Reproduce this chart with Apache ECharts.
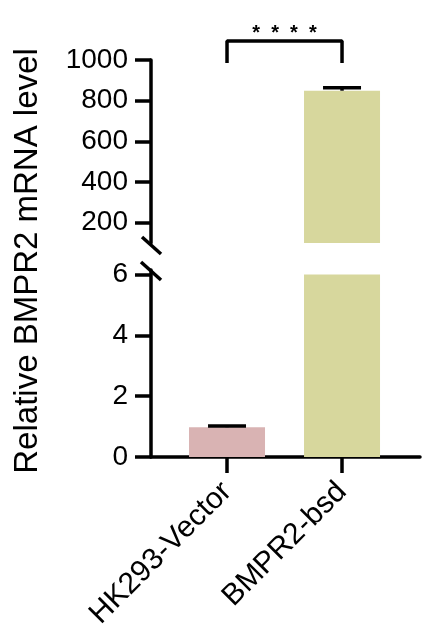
<!DOCTYPE html>
<html>
<head>
<meta charset="utf-8">
<script src="https://cdn.jsdelivr.net/npm/echarts@6/dist/echarts.min.js"></script>
<style>
  html, body { margin: 0; padding: 0; background: #fff; }
  #chart { width: 422px; height: 636px; }
</style>
</head>
<body>
<div id="chart"></div>
<script>
// data
const categories = ['HK293-Vector', 'BMPR2-bsd'];
const means = [0.98, 849];
const sds = [0.04, 15];
const barColors = ['#d9b3b3', '#d7d79d'];
const lowerTicks = [0, 2, 4, 6];
const upperTicks = [200, 400, 600, 800, 1000];
const lowerMax = 6;        // bars are cut at the top of the lower segment
const upperMin = 100;      // upper segment starts here
const bracket = [[0, 985], [0, 1093], [1, 1093], [1, 985]];
const starsAt = [[0.5, 1128]];
const stars = '*  *  *  *';

const font = 'Liberation Sans, Arial, Helvetica, sans-serif';
const lw = 3.5;

const lowerData = means.map((v, i) => ({
  value: [i, Math.min(v, lowerMax)],
  itemStyle: { color: barColors[i] }
}));
const upperData = means.map((v, i) => ({
  value: [i, v > upperMin ? v : null],
  itemStyle: { color: barColors[i] }
}));
const errLower = means.map((v, i) => [i, v, v + sds[i]]).filter(d => d[2] <= lowerMax);
const errUpper = means.map((v, i) => [i, v, v + sds[i]]).filter(d => d[1] > upperMin);

function errorBar(params, api) {
  const x = api.value(0);
  const p1 = api.coord([x, api.value(1)]);
  const p2 = api.coord([x, api.value(2)]);
  const half = 19;
  const style = { stroke: '#000', lineWidth: lw };
  return {
    type: 'group',
    children: [
      { type: 'line', shape: { x1: p1[0], y1: p1[1], x2: p2[0], y2: p2[1] }, style: style },
      { type: 'line', shape: { x1: p2[0] - half, y1: p2[1], x2: p2[0] + half, y2: p2[1] }, style: style }
    ]
  };
}

function starText(params, api) {
  const p = api.coord([api.value(0), api.value(1)]);
  return {
    type: 'text', x: p[0], y: p[1],
    style: {
      text: stars, fontSize: 20, fontWeight: 'bold', fontFamily: font,
      fill: '#000', align: 'center', verticalAlign: 'middle'
    }
  };
}

const xMin = -0.661, xMax = 1.678;

function yAxisStyle(ticks) {
  return {
    splitLine: { show: false },
    axisLine: { show: true, onZero: false, lineStyle: { color: '#000', width: lw } },
    axisTick: { show: true, length: 16, customValues: ticks, lineStyle: { color: '#000', width: lw } },
    axisLabel: {
      customValues: ticks, margin: 23, fontSize: 28, fontFamily: font, color: '#000',
      formatter: v => String(v)
    }
  };
}

const option = {
  animation: false,
  grid: [
    { left: 151, right: 2, top: 60, height: 183 },
    { left: 151, right: 2, top: 270, height: 187 }
  ],
  xAxis: [
    { gridIndex: 0, type: 'value', min: xMin, max: xMax, show: false },
    {
      gridIndex: 1, type: 'value', min: xMin, max: xMax,
      splitLine: { show: false },
      axisLine: { show: true, onZero: false, lineStyle: { color: '#000', width: lw } },
      axisTick: { show: true, length: 16, customValues: [0, 1], lineStyle: { color: '#000', width: lw } },
      axisLabel: {
        customValues: [0, 1], rotate: 45, margin: 30,
        fontSize: 30, fontFamily: font, color: '#000',
        formatter: v => categories[Math.round(v)]
      }
    }
  ],
  yAxis: [
    Object.assign({ gridIndex: 0, type: 'value', min: upperMin, max: 1000 }, yAxisStyle(upperTicks)),
    Object.assign({ gridIndex: 1, type: 'value', min: 0, max: 6.15 }, yAxisStyle(lowerTicks))
  ],
  series: [
    { type: 'bar', xAxisIndex: 1, yAxisIndex: 1, barWidth: 76, data: lowerData },
    { type: 'bar', xAxisIndex: 0, yAxisIndex: 0, barWidth: 76, data: upperData },
    { type: 'custom', xAxisIndex: 1, yAxisIndex: 1, renderItem: errorBar, data: errLower, clip: false, z: 5 },
    { type: 'custom', xAxisIndex: 0, yAxisIndex: 0, renderItem: errorBar, data: errUpper, clip: false, z: 5 },
    {
      type: 'line', xAxisIndex: 0, yAxisIndex: 0, data: bracket, clip: false,
      symbol: 'none', lineStyle: { color: '#000', width: lw }, z: 5
    },
    { type: 'custom', xAxisIndex: 0, yAxisIndex: 0, renderItem: starText, data: starsAt, clip: false, z: 5 }
  ],
  graphic: [
    {
      type: 'text', x: 28, y: 261, rotation: Math.PI / 2,
      style: {
        text: 'Relative BMPR2 mRNA level', fontSize: 33, fontFamily: font,
        fill: '#000', textAlign: 'center', textVerticalAlign: 'middle'
      }
    },
    // axis break marks
    { type: 'line', shape: { x1: 142, y1: 237, x2: 161, y2: 254 }, style: { stroke: '#000', lineWidth: lw } },
    { type: 'line', shape: { x1: 141, y1: 262, x2: 161, y2: 280 }, style: { stroke: '#000', lineWidth: lw } }
  ]
};

const chart = echarts.init(document.getElementById('chart'));
chart.setOption(option);
</script>
</body>
</html>
